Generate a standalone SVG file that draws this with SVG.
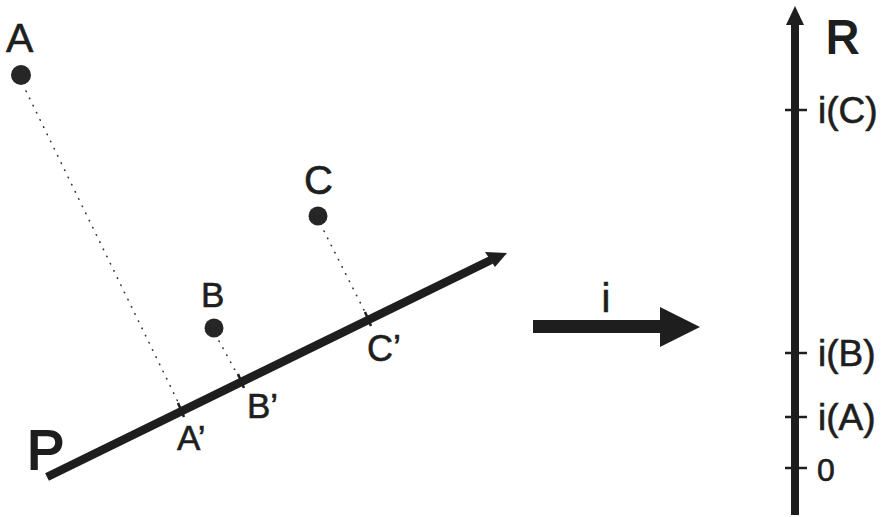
<svg xmlns="http://www.w3.org/2000/svg" width="883" height="517" viewBox="0 0 883 517">
<style>
.lbl{font-family:"Liberation Sans",Arial,sans-serif;fill:#1e1e1e;stroke:#1e1e1e;stroke-width:0.6}
.big{stroke-width:2}
.dot{fill:#262626}
.proj{stroke:#333;stroke-width:1.6;stroke-dasharray:0.5 7.5;stroke-linecap:round;fill:none}
.tick{stroke:#1e1e1e;stroke-width:2.5;fill:none}
.thick{stroke:#1e1e1e;stroke-linecap:butt;fill:none}
</style>
<rect width="883" height="517" fill="#ffffff"/>
<g id="connectors">
  <line class="proj" x1="26" y1="91" x2="181" y2="408"/>
  <line class="proj" x1="219" y1="341" x2="241" y2="381"/>
  <line class="proj" x1="324" y1="231" x2="368" y2="318"/>
</g>
<g id="line-P">
  <line class="thick" x1="47" y1="477" x2="491" y2="260" stroke-width="8.5"/>
  <polygon points="507,253 485,252 495,267" fill="#1e1e1e"/>
  <line class="tick" x1="178" y1="403" x2="184" y2="417"/>
  <line class="tick" x1="238" y1="374" x2="244" y2="388"/>
  <line class="tick" x1="365" y1="312" x2="371" y2="326"/>
  <text class="lbl big" x="27" y="469" font-size="56">P</text>
  <text class="lbl" x="177" y="450" font-size="35">A’</text>
  <text class="lbl" x="247" y="418" font-size="35">B’</text>
  <text class="lbl" x="367" y="361" font-size="36">C’</text>
</g>
<g id="point-A">
  <circle class="dot" cx="21" cy="75" r="10"/>
  <text class="lbl" x="6" y="52" font-size="41">A</text>
</g>
<g id="point-B">
  <circle class="dot" cx="214" cy="328" r="9.5"/>
  <text class="lbl" x="201" y="307" font-size="35">B</text>
</g>
<g id="point-C">
  <circle class="dot" cx="318" cy="216" r="9.5"/>
  <text class="lbl" x="304" y="194" font-size="40">C</text>
</g>
<g id="map-i">
  <polygon points="533,320 660,320 660,307 700,327 660,347 660,333 533,333" fill="#1e1e1e"/>
  <text class="lbl" x="606" y="312" font-size="40" text-anchor="middle">i</text>
</g>
<g id="axis-R">
  <line class="thick" x1="795" y1="22" x2="795" y2="515" stroke-width="8"/>
  <polygon points="795,6 786,25 804,25" fill="#1e1e1e"/>
  <line class="tick" x1="785" y1="110" x2="807" y2="110"/>
  <line class="tick" x1="785" y1="353" x2="807" y2="353"/>
  <line class="tick" x1="785" y1="417" x2="807" y2="417"/>
  <line class="tick" x1="785" y1="468" x2="807" y2="468"/>
  <text class="lbl big" x="826" y="53" font-size="46">R</text>
  <text class="lbl" x="818" y="123" font-size="37">i(C)</text>
  <text class="lbl" x="818" y="366" font-size="37">i(B)</text>
  <text class="lbl" x="818" y="430" font-size="37">i(A)</text>
  <text class="lbl" x="817" y="481" font-size="32">0</text>
</g>
</svg>
